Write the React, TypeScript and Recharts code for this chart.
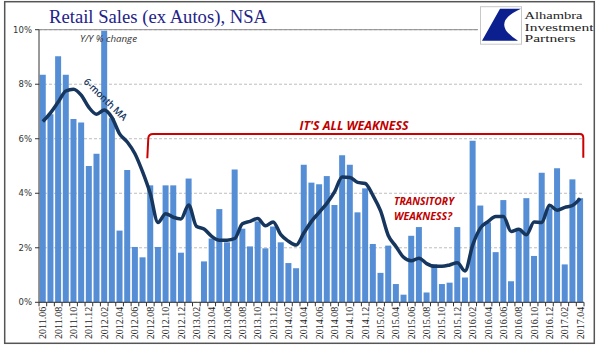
import React from 'react';
import { ComposedChart, Bar, Line, XAxis, YAxis, CartesianGrid, ReferenceLine } from 'recharts';

const months = [
  '2011.06','2011.07','2011.08','2011.09','2011.10','2011.11','2011.12',
  '2012.01','2012.02','2012.03','2012.04','2012.05','2012.06','2012.07','2012.08','2012.09','2012.10','2012.11','2012.12',
  '2013.01','2013.02','2013.03','2013.04','2013.05','2013.06','2013.07','2013.08','2013.09','2013.10','2013.11','2013.12',
  '2014.01','2014.02','2014.03','2014.04','2014.05','2014.06','2014.07','2014.08','2014.09','2014.10','2014.11','2014.12',
  '2015.01','2015.02','2015.03','2015.04','2015.05','2015.06','2015.07','2015.08','2015.09','2015.10','2015.11','2015.12',
  '2016.01','2016.02','2016.03','2016.04','2016.05','2016.06','2016.07','2016.08','2016.09','2016.10','2016.11','2016.12',
  '2017.01','2017.02','2017.03','2017.04',
];

const yoyChange: (number | null)[] = [
  8.35, 6.9, 9.03, 8.35, 6.72, 6.6, 5.0,
  5.45, 9.96, 6.75, 2.63, 4.85, 2.03, 1.65, 4.29, 2.03, 4.29, 4.29, 1.82,
  4.54, null, 1.5, 2.34, 3.42, 2.2, 4.87, 2.7, 2.05, 2.97, 1.98, 2.78,
  2.2, 1.44, 1.25, 5.05, 4.39, 4.33, 4.63, 3.57, 5.39, 5.05, 3.3, 4.18,
  2.14, 1.08, 2.08, 0.67, 0.28, 2.44, 2.76, 0.36, 1.4, 0.67, 0.72, 2.76,
  0.91, 5.93, 3.55, 2.93, 1.84, 3.75, 0.77, 2.7, 3.82, 1.7, 4.75, 3.45,
  4.92, 1.39, 4.51, 3.82,
];

const movingAvg6: number[] = [
  6.63, 6.95, 7.35, 7.75, 7.82, 7.6, 7.15,
  6.9, 7.05, 6.78, 6.18, 5.88, 5.45, 4.78, 3.98, 2.93, 3.25, 3.12, 3.06,
  3.57, 2.79, 2.69, 2.42, 2.28, 2.28, 2.34, 2.88, 2.97, 3.07, 2.81, 2.95,
  2.48, 2.24, 2.1, 2.54, 2.97, 3.3, 3.63, 4.05, 4.6, 4.58, 4.4, 4.36,
  3.92, 3.35, 2.45, 2.05, 1.65, 1.52, 1.62, 1.42, 1.32, 1.32, 1.37, 1.45,
  1.15, 2.1, 2.72, 2.96, 3.15, 3.15, 2.6, 2.68, 2.48, 2.95, 2.93, 3.56,
  3.38, 3.48, 3.55, 3.81,
];

const yTicks = [0, 2, 4, 6, 8, 10];

const data = months.map((m, i) => ({ month: m, yoy: yoyChange[i], ma: movingAvg6[i] }));

const XTick = (props: any) => {
  const { x, y, payload, index } = props;
  const half = payload && typeof payload.offset === 'number' && payload.offset > 0 ? payload.offset : 3.84;
  const i = typeof index === 'number' ? index : payload.index;
  const last = i === months.length - 1;
  return (
    <g>
      <line x1={x - half} x2={x - half} y1={y} y2={y + 4} stroke="#333" strokeWidth={1} />
      {last && <line x1={x + half} x2={x + half} y1={y} y2={y + 4} stroke="#333" strokeWidth={1} />}
      {i % 2 === 0 && (
        <text
          x={x + 3.5}
          y={y + 4.5}
          transform={`rotate(-90, ${x + 3.5}, ${y + 4.5})`}
          textAnchor="end"
          fontFamily="'Liberation Serif', serif"
          fontSize={10}
          fill="#222"
        >
          {payload.value}
        </text>
      )}
    </g>
  );
};

export default function App() {
  return (
    <div style={{ position: 'absolute', left: 0, top: 0, width: 600, height: 351, background: '#fff' }}>
      <ComposedChart
        width={600}
        height={351}
        data={data}
        margin={{ top: 29.7, right: 16, bottom: 0, left: 0 }}
        barCategoryGap="10%"
      >
        <CartesianGrid vertical={false} stroke="#bdbdbd" strokeDasharray="3 2" />
        <XAxis
          dataKey="month"
          interval={0}
          height={48.7}
          tickSize={0}
          tickMargin={0}
          tickLine={false}
          axisLine={{ stroke: '#333', strokeWidth: 1 }}
          tick={<XTick />}
        />
        <YAxis
          domain={[0, 10]}
          ticks={yTicks}
          width={39}
          tickSize={4}
          tickMargin={3}
          tickFormatter={(v: number) => `${v}%`}
          tick={{ fontSize: 8.5, fill: '#333', fontFamily: "'DejaVu Sans', sans-serif" }}
          tickLine={{ stroke: '#333' }}
          axisLine={{ stroke: '#333' }}
        />
        <YAxis
          yAxisId="right"
          orientation="right"
          domain={[0, 10]}
          width={0}
          tick={false}
          tickLine={false}
          axisLine={{ stroke: '#999' }}
        />
        <ReferenceLine y={10} stroke="#8c8c8c" strokeWidth={1} />
        <Bar dataKey="yoy" fill="#558ED5" isAnimationActive={false} />
        <Line
          dataKey="ma"
          type="monotone"
          stroke="#17365D"
          strokeWidth={3.5}
          dot={false}
          isAnimationActive={false}
        />
      </ComposedChart>
      <svg
        width={600}
        height={351}
        style={{ position: 'absolute', left: 0, top: 0, pointerEvents: 'none' }}
      >
        <rect x={4.7} y={1.7} width={589.6} height={341.6} fill="none" stroke="#555" strokeWidth={1.5} />
        <text x={49} y={23} fontFamily="'Liberation Serif', serif" fontSize={18} fill="#232388" textLength={218} lengthAdjust="spacingAndGlyphs">
          Retail Sales (ex Autos), NSA
        </text>
        {/* logo */}
        <rect x={478} y={4} width={115} height={41} fill="#fff" />
        <rect x={480.5} y={6.7} width={41} height={37.5} fill="#fff" stroke="#c8c8c8" strokeWidth={1} />
        <path d="M 500 8.7 L 521 8.7 Q 489 23 518 40.7 L 482 40.7 Z" fill="#0b1f8f" />
        <text x={524.5} y={19} fontFamily="'Liberation Serif', serif" fontSize={10.4} fill="#222" textLength={58} lengthAdjust="spacingAndGlyphs">Alhambra</text>
        <text x={524.5} y={30.6} fontFamily="'Liberation Serif', serif" fontSize={10.4} fill="#222" textLength={69} lengthAdjust="spacingAndGlyphs">Investment</text>
        <text x={524.5} y={42.2} fontFamily="'Liberation Serif', serif" fontSize={10.4} fill="#222" textLength={51} lengthAdjust="spacingAndGlyphs">Partners</text>
        {/* annotations */}
        <text x={80} y={42} fontFamily="'Open Sans', sans-serif" fontStyle="italic" fontSize={9} fill="#333" textLength={57} lengthAdjust="spacingAndGlyphs">Y/Y % change</text>
        <text
          x={105}
          y={100}
          transform="rotate(44, 105, 100)"
          textAnchor="middle"
          dominantBaseline="middle"
          fontFamily="'Open Sans', sans-serif"
          fontWeight={600}
          fontSize={10}
          fill="#17365D"
          textLength={56}
          lengthAdjust="spacingAndGlyphs"
        >
          6-month MA
        </text>
        <path d="M 147.3 158.3 L 148.3 138 Q 148.8 134 153 134 L 580 134 Q 583.3 134 583.3 138 L 583.3 157.7" fill="none" stroke="#cc0000" strokeWidth={2} />
        <text x={299.5} y={129.5} fontFamily="'Open Sans', sans-serif" fontStyle="italic" fontWeight={700} fontSize={12} fill="#c00000" textLength={109} lengthAdjust="spacingAndGlyphs">
          IT'S ALL WEAKNESS
        </text>
        <text x={394} y={205} fontFamily="'Open Sans', sans-serif" fontStyle="italic" fontWeight={700} fontSize={11} fill="#c00000" textLength={60} lengthAdjust="spacingAndGlyphs">
          TRANSITORY
        </text>
        <text x={394} y={220} fontFamily="'Open Sans', sans-serif" fontStyle="italic" fontWeight={700} fontSize={11} fill="#c00000" textLength={58} lengthAdjust="spacingAndGlyphs">
          WEAKNESS?
        </text>
      </svg>
    </div>
  );
}
